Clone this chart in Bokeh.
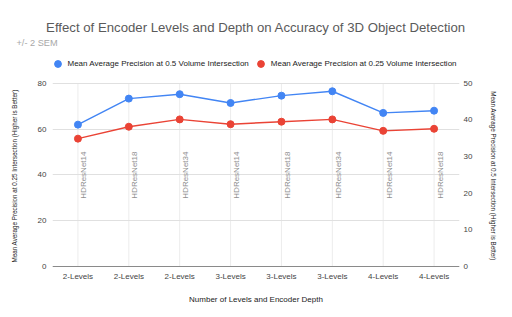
import math
from bokeh.plotting import figure
from bokeh.layouts import column
from bokeh.models import (Range1d, LinearAxis, FixedTicker, Legend, LegendItem, Title,
                          ColumnDataSource, Spacer)
from bokeh.core.properties import value
from bokeh.embed import file_html
from bokeh.resources import INLINE

# ---- data ----
levels = ["2-Levels", "2-Levels", "2-Levels", "3-Levels", "3-Levels", "3-Levels", "4-Levels", "4-Levels"]
encoders = ["HDResNet14", "HDResNet18", "HDResNet34", "HDResNet14", "HDResNet18", "HDResNet34",
            "HDResNet14", "HDResNet18"]
map_050 = [38.7, 45.8, 47.0, 44.6, 46.6, 47.8, 41.9, 42.5]   # right axis (0.5 intersection)
map_025 = [55.8, 61.0, 64.2, 62.1, 63.2, 64.2, 59.2, 60.1]   # left axis (0.25 intersection)
left_ticks = [0, 20, 40, 60, 80]
right_ticks = [0, 10, 20, 30, 40, 50]

title_text = "Effect of Encoder Levels and Depth on Accuracy of 3D Object Detection"
subtitle_text = "+/- 2 SEM"
label_050 = "Mean Average Precision at 0.5 Volume Intersection"
label_025 = "Mean Average Precision at 0.25 Volume Intersection"
xlabel = "Number of Levels and Encoder Depth"
ylabel_left = "Mean Average Precision at 0.25 Intersection (Higher is Better)"
ylabel_right = "Mean Average Precision at 0.5 Intersection (Higher is Better)"

FONT = "Liberation Sans"
BLUE = "#4285F4"
RED = "#EA4335"

# ---- layout constants (pixels) ----
TOP_SPACE = 16          # blank band above the title
FIG_W, FIG_H = 511, 300
TITLES_H = 32           # height of the two title panels
BOTTOM = 13             # border below the plotting frame
BELOW_PX = 37           # frame pixels below the zero baseline (x axis drawn inside)
PLOT_H = 183.3          # pixel height of the 0..80 data band
frame_h = FIG_H - TITLES_H - BOTTOM
left_max, right_max = left_ticks[-1], right_ticks[-1]
left_lo, left_hi = -BELOW_PX * left_max / PLOT_H, (frame_h - BELOW_PX) * left_max / PLOT_H
right_lo, right_hi = -BELOW_PX * right_max / PLOT_H, (frame_h - BELOW_PX) * right_max / PLOT_H

xs = list(range(len(levels)))
src = ColumnDataSource(dict(x=xs, a=map_050, b=map_025, enc=encoders,
                            ann_y=[29.6] * len(xs),
                            g0=[0] * len(xs), g1=[left_max] * len(xs)))

p = figure(width=FIG_W, height=FIG_H, output_backend="svg", toolbar_location=None,
           x_range=Range1d(-0.5, len(xs) - 0.5), y_range=Range1d(left_lo, left_hi),
           min_border_left=52, min_border_right=52, min_border_top=0,
           min_border_bottom=BOTTOM)
p.outline_line_color = None
p.background_fill_color = "white"
p.border_fill_color = "white"
p.extra_y_ranges = {"right": Range1d(right_lo, right_hi)}

# grids
p.ygrid.ticker = FixedTicker(ticks=left_ticks)
p.ygrid.grid_line_color = "#e0e0e0"
p.xgrid.grid_line_color = None
p.segment(x0="x", y0="g0", x1="x", y1="g1", source=src, line_color="#ececec",
          line_width=1, level="underlay")


def style_axis(ax, label_size, label_standoff, tick_standoff):
    ax.axis_label_text_font = FONT
    ax.axis_label_text_font_size = label_size
    ax.axis_label_text_font_style = "normal"
    ax.axis_label_text_color = "#222222"
    ax.axis_label_standoff = label_standoff
    ax.major_label_text_font = FONT
    ax.major_label_text_font_size = "8px"
    ax.major_label_text_color = "#444444"
    ax.major_label_standoff = tick_standoff
    ax.major_tick_line_color = None
    ax.minor_tick_line_color = None
    ax.major_tick_in = 0
    ax.major_tick_out = 0
    ax.minor_tick_in = 0
    ax.minor_tick_out = 0


# x axis, drawn at the zero baseline inside the frame
xa = p.xaxis[0]
xa.ticker = FixedTicker(ticks=xs)
xa.major_label_overrides = {i: lv for i, lv in enumerate(levels)}
xa.axis_label = xlabel
style_axis(xa, "8px", 11, 5)
xa.axis_line_color = "#8a8a8a"
xa.fixed_location = 0

# left axis
ya = p.yaxis[0]
ya.ticker = FixedTicker(ticks=left_ticks)
ya.axis_label = ylabel_left
style_axis(ya, "6.3px", 17, 6)
ya.axis_line_color = None

# right axis
ra = LinearAxis(y_range_name="right", ticker=FixedTicker(ticks=right_ticks))
ra.axis_label = ylabel_right
style_axis(ra, "6.3px", 15, 4)
ra.axis_line_color = None
p.add_layout(ra, "right")

# annotations (encoder names)
p.text(x="x", y="ann_y", text="enc", source=src, angle=math.pi / 2,
       text_align="left", text_baseline="alphabetic", x_offset=6,
       text_font=value(FONT), text_font_size="8px", text_color="#8f8f8f")

# series
p.line(x="x", y="b", source=src, line_color=RED, line_width=1.4)
r_red = p.scatter(x="x", y="b", source=src, size=7, fill_color=RED, line_color=RED)
p.line(x="x", y="a", source=src, line_color=BLUE, line_width=1.4, y_range_name="right")
r_blue = p.scatter(x="x", y="a", source=src, size=7, fill_color=BLUE, line_color=BLUE,
                   y_range_name="right")

# legend inside the frame, above the data band
legend = Legend(items=[LegendItem(label=label_050, renderers=[r_blue]),
                       LegendItem(label=label_025, renderers=[r_red])],
                orientation="horizontal", location=(-3.5, BELOW_PX + 194.5),
                glyph_width=17, glyph_height=17, label_height=17, label_standoff=2,
                spacing=3, padding=0, margin=0,
                border_line_color=None, background_fill_alpha=0,
                label_text_font=FONT, label_text_font_size="8px",
                label_text_color="#222222")
p.add_layout(legend, "center")

# titles (closest to the frame first)
p.add_layout(Title(text=subtitle_text, align="left", offset=-36, standoff=1,
                   text_font=FONT, text_font_size="9.2px", text_font_style="normal",
                   text_color="#a8a8a8"), "above")
p.add_layout(Title(text=title_text, align="center", standoff=2,
                   text_font=FONT, text_font_size="13.2px", text_font_style="normal",
                   text_color="#5a5a5a"), "above")

layout = column(Spacer(width=FIG_W, height=TOP_SPACE), p, spacing=0)
open("out.html", "w").write(file_html(layout, INLINE))
